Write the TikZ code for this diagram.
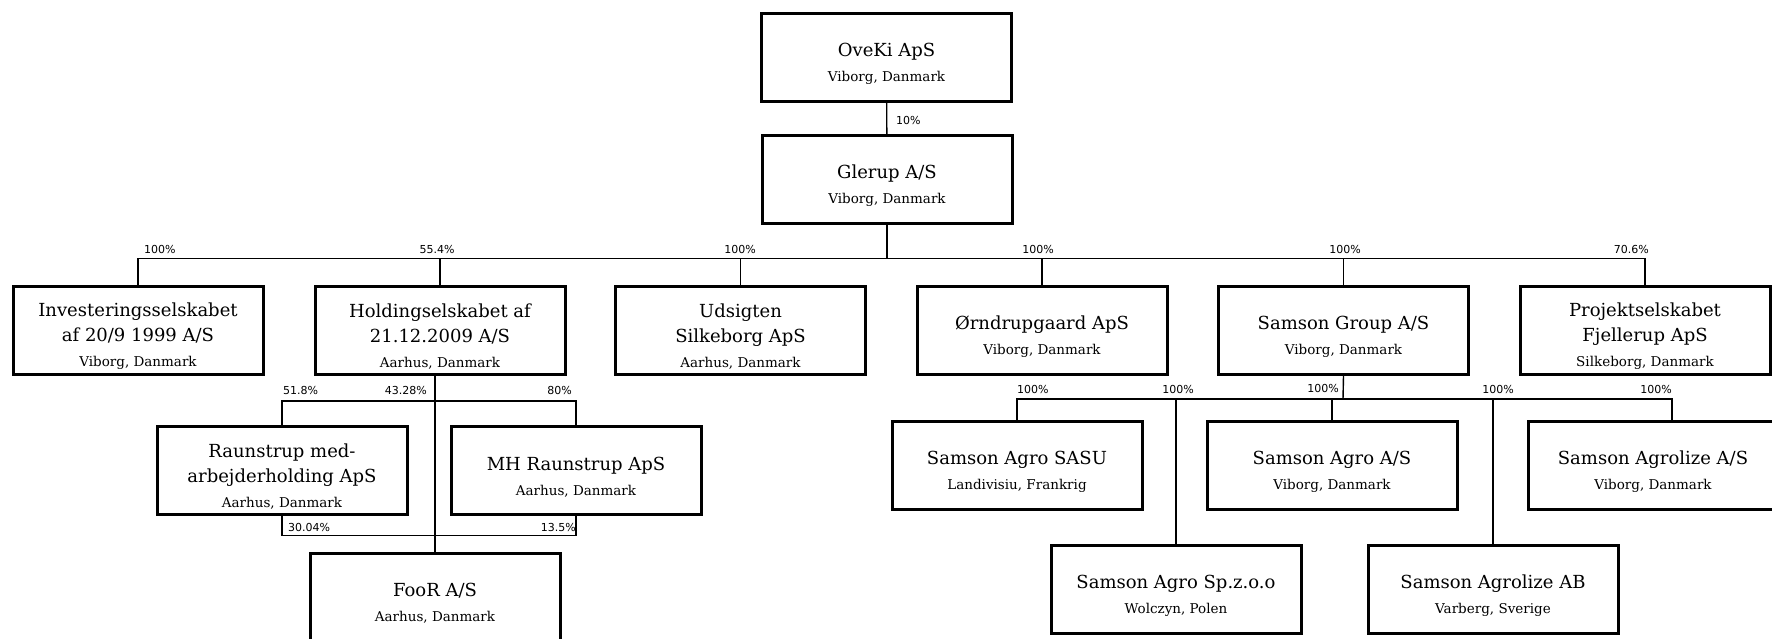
\documentclass[tikz,border=0pt]{standalone}
\usepackage{fontspec}
\usepackage{tikz}
\usetikzlibrary{calc}
\newfontfamily\slabfont{DejaVu Serif}
\newfontfamily\pctfamily{DejaVu Sans}
\newcommand{\loc}[1]{{\fontsize{13.5}{25}\selectfont #1}}
\newcommand{\hd}{\rule{0pt}{26pt}}
\tikzset{
  firm/.style={draw=black, line width=3pt, minimum width=250pt, minimum height=88pt,
    inner sep=0pt, align=center, font=\slabfont\fontsize{18}{25}\selectfont},
  own/.style={draw=black, line width=1.4pt},
  pct/.style={font=\pctfamily\fontsize{11}{13}\selectfont, inner sep=0pt},
}

\begin{document}
\begin{tikzpicture}[x=1pt, y=-1pt]
  \useasboundingbox (0,0) rectangle (1772,638);
  % top
  \node[firm] (oveki) at (886.5,57) {\hd OveKi ApS\\\loc{Viborg, Danmark}};
  \node[firm] (glerup) at (887,179.5) {\hd Glerup A/S\\\loc{Viborg, Danmark}};
  % level 2
  \node[firm] (invest) at (138,330) {\hd Investeringsselskabet\\af 20/9 1999 A/S\\\loc{Viborg, Danmark}};
  \node[firm] (holding) at (440,330) {\hd Holdingselskabet af\\21.12.2009 A/S\\\loc{Aarhus, Danmark}};
  \node[firm] (udsigt) at (740.5,330) {\hd Udsigten\\Silkeborg ApS\\\loc{Aarhus, Danmark}};
  \node[firm] (orndrup) at (1042,330) {\hd Ørndrupgaard ApS\\\loc{Viborg, Danmark}};
  \node[firm] (group) at (1343.5,330) {\hd Samson Group A/S\\\loc{Viborg, Danmark}};
  \node[firm] (projekt) at (1645,330) {\hd Projektselskabet\\Fjellerup ApS\\\loc{Silkeborg, Danmark}};
  % under holding
  \node[firm] (rmed) at (282,470.7) {\hd Raunstrup med-\\arbejderholding ApS\\\loc{Aarhus, Danmark}};
  \node[firm] (mh) at (576,470.7) {\hd MH Raunstrup ApS\\\loc{Aarhus, Danmark}};
  \node[firm] (foor) at (435,597) {\hd FooR A/S\\\loc{Aarhus, Danmark}};
  % under samson group
  \node[firm] (sasu) at (1017,465) {\hd Samson Agro SASU\\\loc{Landivisiu, Frankrig}};
  \node[firm] (agro) at (1332,465) {\hd Samson Agro A/S\\\loc{Viborg, Danmark}};
  \node[firm] (agz) at (1653,465) {\hd Samson Agrolize A/S\\\loc{Viborg, Danmark}};
  \node[firm] (spzoo) at (1176,589) {\hd Samson Agro Sp.z.o.o\\\loc{Wolczyn, Polen}};
  \node[firm] (ab) at (1493,589) {\hd Samson Agrolize AB\\\loc{Varberg, Sverige}};

  \coordinate (bus1) at (887,258.3);
  \coordinate (bus2) at (435,401);
  \coordinate (foorbus) at (435,535.7);
  \coordinate (bus3) at (1343,399);

  \draw[own] (oveki) -- (glerup);
  \draw[own] (glerup.south) -- (bus1);
  \foreach \n in {invest,holding,udsigt,orndrup,group,projekt}
    \draw[own] (bus1) -| (\n.north);
  \draw[own] (holding.south -| foor.north) -- (foor.north);
  \draw[own] (rmed.north) |- (bus2) -| (mh.north);
  \draw[own] (rmed.south) |- (foorbus) -| (mh.south);
  \draw[own] (group.south) -- (bus3);
  \foreach \n in {sasu,agro,spzoo,ab}
    \draw[own] (bus3) -| (\n.north);
  \draw[own] (bus3) -| ([xshift=19pt]agz.north);

  % ownership shares
  \node[pct, anchor=base west] (p-glerup) at (896,124.5) {10\%};
  \node[pct, anchor=base west] (p-invest) at (144,253.5) {100\%};
  \node[pct, anchor=base] (p-holding) at (437,253.5) {55.4\%};
  \node[pct, anchor=base] (p-udsigt) at (740,253.5) {100\%};
  \node[pct, anchor=base] (p-orndrup) at (1038,253.5) {100\%};
  \node[pct, anchor=base] (p-group) at (1345,253.5) {100\%};
  \node[pct, anchor=base east] (p-projekt) at (1649,253.5) {70.6\%};
  \node[pct, anchor=base west] (p-rmed) at (283,394.5) {51.8\%};
  \node[pct, anchor=base east] (p-foor) at (427,394.5) {43.28\%};
  \node[pct, anchor=base east] (p-mh) at (572,394.5) {80\%};
  \node[pct, anchor=base west] (p-rmedfoor) at (288,531.5) {30.04\%};
  \node[pct, anchor=base east] (p-mhfoor) at (576,531.5) {13.5\%};
  \node[pct, anchor=base west] (p-sasu) at (1017,393.5) {100\%};
  \node[pct, anchor=base] (p-spzoo) at (1178,393.5) {100\%};
  \node[pct, anchor=base east] (p-agro) at (1339,392) {100\%};
  \node[pct, anchor=base] (p-ab) at (1498,393.5) {100\%};
  \node[pct, anchor=base east] (p-agz) at (1672,393.5) {100\%};
\end{tikzpicture}
\end{document}
